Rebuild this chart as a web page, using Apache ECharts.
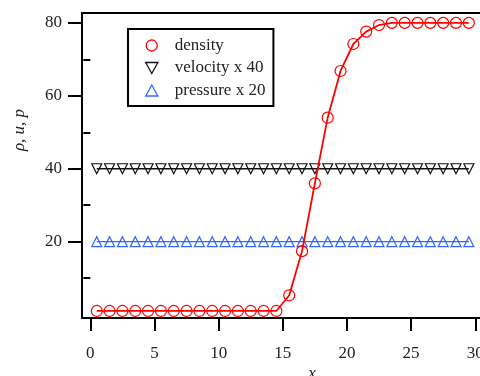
<!DOCTYPE html>
<html><head><meta charset="utf-8">
<script src="https://cdn.jsdelivr.net/npm/echarts@6/dist/echarts.min.js"></script>
<style>html,body{margin:0;padding:0;background:#fff}#c{width:480px;height:376px}</style>
</head><body><div id="c"></div>
<script>
var xs = [0.5,1.5,2.5,3.5,4.5,5.5,6.5,7.5,8.5,9.5,10.5,11.5,12.5,13.5,14.5,15.5,16.5,17.5,18.5,19.5,20.5,21.5,22.5,23.5,24.5,25.5,26.5,27.5,28.5,29.5];
var density = [1,1,1,1,1,1,1,1,1,1,1,1,1,1,1,5.3,17.4,36,54,66.8,74.2,77.6,79.4,80,80,80,80,80,80,80];
var velocity40 = [40,40,40,40,40,40,40,40,40,40,40,40,40,40,40,40,40,40,40,40,40,40,40,40,40,40,40,40,40,40];
var pressure20 = [20,20,20,20,20,20,20,20,20,20,20,20,20,20,20,20,20,20,20,20,20,20,20,20,20,20,20,20,20,20];
var xTicks = [0,5,10,15,20,25,30];
var yTicks = [20,40,60,80];
var yMinorTicks = [10,30,50,70];
var names = ['density','velocity x 40','pressure x 20'];

function pairs(v){ return xs.map(function(x,i){ return [x, v[i]]; }); }
var FONT = 'Liberation Serif';
var RED = '#ff0000', BLK = '#111111', BLUE = '#3366ff';
var downTri = 'path://M0,0L10,0L5,9Z';
var upTri = 'path://M5,0L10,9L0,9Z';

var chart = echarts.init(document.getElementById('c'));
chart.setOption({
  animation: false,
  grid: {left: 82, right: 0, top: 13, bottom: 58, show: false, containLabel: false, outerBoundsMode: 'none'},
  xAxis: [{
    type: 'value', min: -0.65, max: 30.37,
    splitLine: {show: false},
    axisLine: {show: true, onZero: false, lineStyle: {color: '#000', width: 2}},
    axisTick: {show: true, inside: false, length: 13, lineStyle: {color: '#000', width: 2}, customValues: xTicks},
    axisLabel: {customValues: xTicks, margin: 27, color: '#222', fontFamily: FONT, fontSize: 17}
  },{
    type: 'value', min: -0.65, max: 30.37, position: 'top',
    splitLine: {show: false},
    axisLine: {show: true, onZero: false, lineStyle: {color: '#000', width: 2}},
    axisTick: {show: false}, axisLabel: {show: false}
  }],
  yAxis: [{
    type: 'value', min: -0.93, max: 82.7,
    splitLine: {show: false},
    axisLine: {show: true, onZero: false, lineStyle: {color: '#000', width: 2}},
    axisTick: {show: true, inside: false, length: 14, lineStyle: {color: '#000', width: 2}, customValues: yTicks},
    axisLabel: {customValues: yTicks, margin: 20, color: '#222', fontFamily: FONT, fontSize: 17}
  },{
    type: 'value', min: -0.93, max: 82.7, position: 'left',
    splitLine: {show: false},
    axisLine: {show: false},
    axisTick: {show: true, inside: false, length: 7, lineStyle: {color: '#000', width: 2}, customValues: yMinorTicks},
    axisLabel: {show: false}
  }],
  legend: {
    left: 128, top: 29, orient: 'vertical',
    backgroundColor: '#fff', borderColor: '#000', borderWidth: 2, borderRadius: 0,
    padding: [8, 8, 7, 17], itemGap: 5.5, itemWidth: 36, itemHeight: 11,
    textStyle: {fontFamily: FONT, fontSize: 17, color: '#222'},
    data: [
      {name: names[0], icon: 'circle', itemStyle: {color: 'transparent', borderColor: RED, borderWidth: 1.3}},
      {name: names[1], icon: downTri, itemStyle: {color: 'transparent', borderColor: BLK, borderWidth: 1.3}},
      {name: names[2], icon: upTri, itemStyle: {color: 'transparent', borderColor: BLUE, borderWidth: 1.3}}
    ]
  },
  graphic: [
    {type: 'text', x: 20, y: 130, rotation: Math.PI/2, style: {text: 'ρ, u, p', fontFamily: FONT, fontSize: 17, fontStyle: 'italic', fill: '#222', align: 'center', verticalAlign: 'middle'}},
    {type: 'text', x: 312, y: 365, style: {text: 'x', fontFamily: FONT, fontSize: 17, fontStyle: 'italic', fill: '#222', align: 'center', verticalAlign: 'top'}}
  ],
  series: [
    {name: names[1], type: 'line', data: pairs(velocity40), symbol: 'triangle', symbolRotate: 180, symbolSize: 10,
     itemStyle: {color: 'transparent', borderColor: BLK, borderWidth: 1.2},
     lineStyle: {color: BLK, width: 1.3}, z: 2},
    {name: names[2], type: 'line', data: pairs(pressure20), symbol: 'triangle', symbolSize: 10,
     itemStyle: {color: 'transparent', borderColor: BLUE, borderWidth: 1.2},
     lineStyle: {color: BLUE, width: 1.3}, z: 3},
    {name: names[0], type: 'line', data: pairs(density), symbol: 'circle', symbolSize: 11,
     itemStyle: {color: 'transparent', borderColor: RED, borderWidth: 1.2},
     lineStyle: {color: RED, width: 1.8}, z: 4}
  ]
});
</script></body></html>
